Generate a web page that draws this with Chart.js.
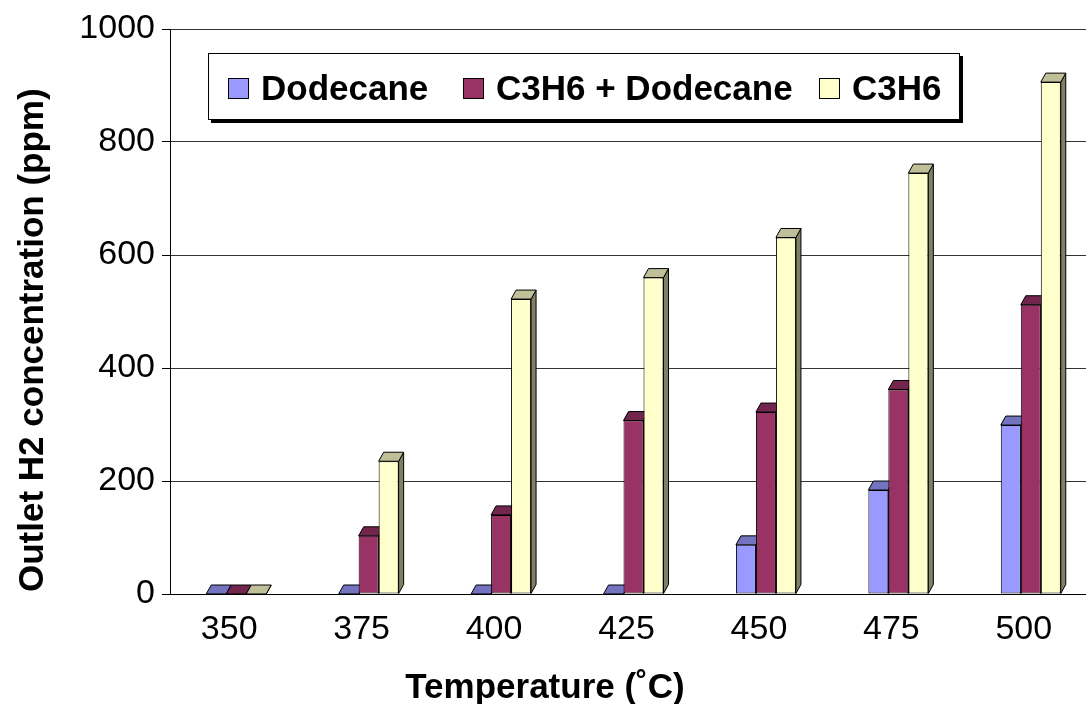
<!DOCTYPE html>
<html>
<head>
<meta charset="utf-8">
<script src="https://cdn.jsdelivr.net/npm/chart.js@4.4.1/dist/chart.umd.min.js"></script>
<style>
  html, body { margin: 0; padding: 0; background: #fff; overflow: hidden; }
  canvas { display: block; }
</style>
</head>
<body>
<canvas id="c" width="1100" height="704"></canvas>
<script>
const categories = ['350', '375', '400', '425', '450', '475', '500'];
const dodecane = [0, 0, 0, 0, 87, 184, 299];
const c3h6Dodecane = [0, 103, 140, 307, 322, 362, 512];
const c3h6 = [0, 235, 522, 560, 631, 745, 906];
const seriesNames = ['Dodecane', 'C3H6 + Dodecane', 'C3H6'];
const yMin = 0, yMax = 1000, yStep = 200;
const xTitle = 'Temperature (˚C)';
const yTitle = 'Outlet H2 concentration (ppm)';

const FONT = "'Liberation Sans', Arial, sans-serif";
const colors = [
  { front: '#9999FF', top: '#7373BF', side: '#4D4D80' },
  { front: '#993366', top: '#73264D', side: '#4D1A33' },
  { front: '#FFFFCC', top: '#BFBF99', side: '#808066' }
];
const DX = 5, DY = 9;

const faces3D = {
  id: 'faces3D',
  beforeDatasetsDraw(chart) {
    const ctx = chart.ctx;
    ctx.save();
    ctx.lineWidth = 1;
    ctx.strokeStyle = '#000';
    chart.data.datasets.forEach((ds, i) => {
      const meta = chart.getDatasetMeta(i);
      meta.data.forEach(el => {
        const p = el.getProps(['x', 'y', 'base', 'width'], true);
        const l = p.x - p.width / 2, r = p.x + p.width / 2;
        const t = Math.min(p.y, p.base), b = Math.max(p.y, p.base);
        ctx.beginPath();
        ctx.moveTo(r, t); ctx.lineTo(r + DX, t - DY); ctx.lineTo(r + DX, b - DY); ctx.lineTo(r, b);
        ctx.closePath();
        ctx.fillStyle = colors[i].side; ctx.fill(); ctx.stroke();
        ctx.beginPath();
        ctx.moveTo(l, t); ctx.lineTo(l + DX, t - DY); ctx.lineTo(r + DX, t - DY); ctx.lineTo(r, t);
        ctx.closePath();
        ctx.fillStyle = colors[i].top; ctx.fill(); ctx.stroke();
      });
    });
    ctx.restore();
  }
};

const decorations = {
  id: 'decorations',
  afterDraw(chart) {
    const ctx = chart.ctx;
    ctx.save();
    const bx = 208, by = 53, bw = 752, bh = 67;
    ctx.fillStyle = '#000';
    ctx.fillRect(bx + 3, by + 3, bw, bh);
    ctx.fillStyle = '#fff';
    ctx.fillRect(bx, by, bw, bh);
    ctx.strokeStyle = '#000'; ctx.lineWidth = 1;
    ctx.strokeRect(bx + 0.5, by + 0.5, bw - 1, bh - 1);
    const itemX = [228, 463, 819];
    ctx.font = 'bold 35px ' + FONT;
    ctx.textBaseline = 'alphabetic';
    ctx.textAlign = 'left';
    seriesNames.forEach((name, i) => {
      const sx = itemX[i];
      ctx.fillStyle = colors[i].front;
      ctx.fillRect(sx, 78, 21, 21);
      ctx.strokeRect(sx + 0.5, 78.5, 20, 20);
      ctx.fillStyle = '#000';
      ctx.fillText(name, sx + 33, 100);
    });
    ctx.font = 'bold 35px ' + FONT;
    ctx.fillStyle = '#000';
    ctx.textAlign = 'center';
    ctx.fillText(xTitle, 545, 698);
    ctx.translate(43, 592);
    ctx.rotate(-Math.PI / 2);
    ctx.textAlign = 'left';
    ctx.fillText(yTitle, 0, 0);
    ctx.restore();
  }
};

new Chart(document.getElementById('c'), {
  type: 'bar',
  data: {
    labels: categories,
    datasets: [
      { label: seriesNames[0], data: dodecane },
      { label: seriesNames[1], data: c3h6Dodecane },
      { label: seriesNames[2], data: c3h6 }
    ].map((d, i) => Object.assign(d, {
      backgroundColor: colors[i].front,
      borderColor: '#000',
      borderWidth: 1,
      borderSkipped: false,
      categoryPercentage: 0.453,
      barPercentage: 1.0
    }))
  },
  options: {
    responsive: false,
    animation: false,
    devicePixelRatio: 1,
    layout: { padding: { top: 29, right: 3, left: 0, bottom: 0 } },
    plugins: { legend: { display: false }, tooltip: { enabled: false } },
    scales: {
      x: {
        grid: { display: false },
        border: { display: true, color: '#000', width: 1 },
        ticks: {
          color: '#000', font: { size: 34, family: FONT },
          padding: 7, labelOffset: -7, maxRotation: 0, autoSkip: false
        },
        afterFit(s) { s.height = 110; }
      },
      y: {
        min: yMin, max: yMax,
        grid: { color: '#333', tickLength: 8, tickColor: '#000', drawTicks: true },
        border: { display: true, color: '#000', width: 1 },
        ticks: {
          stepSize: yStep, color: '#000', font: { size: 34, family: FONT }, padding: 7,
          callback: v => String(v)
        },
        afterFit(s) { s.width = 170; }
      }
    }
  },
  plugins: [faces3D, decorations]
});
</script>
</body>
</html>
